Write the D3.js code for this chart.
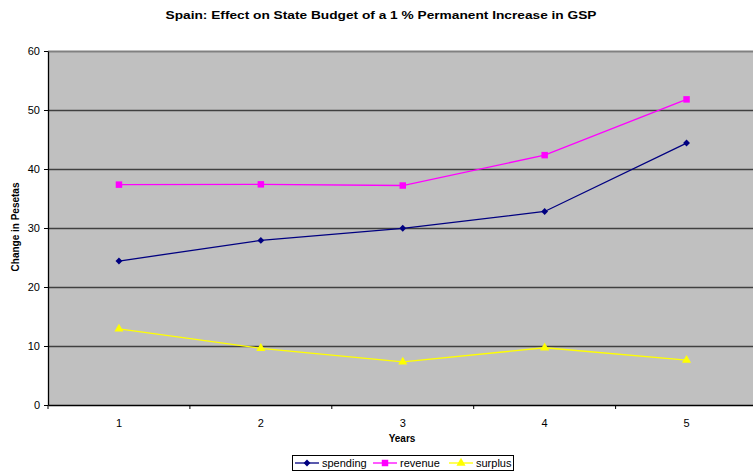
<!DOCTYPE html>
<html>
<head>
<meta charset="utf-8">
<script src="https://cdn.jsdelivr.net/npm/d3@7"></script>
<style>
  html, body { margin: 0; padding: 0; background: #fff; }
  svg { display: block; font-family: "Liberation Sans", Arial, sans-serif; }
</style>
</head>
<body>
<svg id="chart" width="753" height="474"></svg>
<script>
// Chart data
const years = [1, 2, 3, 4, 5];
const spending = [24.4, 27.9, 29.95, 32.8, 44.4];
const revenue = [37.35, 37.4, 37.2, 42.35, 51.8];
const surplus = [12.9, 9.6, 7.3, 9.7, 7.6];
const yTicks = [0, 10, 20, 30, 40, 50, 60];

const seriesList = [
  { name: "spending", values: spending, color: "#000080", symbol: d3.symbolDiamond2, size: 30 },
  { name: "revenue", values: revenue, color: "#FF00FF", symbol: d3.symbolSquare, size: 42 },
  { name: "surplus", values: surplus, color: "#FFFF00", symbol: d3.symbolTriangle, size: 36 }
];

const svg = d3.select("#chart");
const plot = { left: 48, top: 51, right: 757.5, bottom: 405 };

const x = d3.scaleBand().domain(years).range([plot.left, plot.right]);
const y = d3.scaleLinear().domain([0, 60]).range([plot.bottom, plot.top]);
const cx = d => x(d) + x.bandwidth() / 2;

// Plot background
svg.append("rect")
  .attr("x", plot.left).attr("y", plot.top)
  .attr("width", plot.right - plot.left).attr("height", plot.bottom - plot.top)
  .attr("fill", "#C0C0C0");

// Horizontal gridlines
svg.append("g").selectAll("line")
  .data(yTicks.filter(t => t > 0))
  .join("line")
  .attr("x1", plot.left).attr("x2", plot.right)
  .attr("y1", d => Math.round(y(d)) + 0.5).attr("y2", d => Math.round(y(d)) + 0.5)
  .attr("stroke", d => d === 60 ? "#808080" : "#404040")
  .attr("stroke-width", d => d === 60 ? 2 : 1.3);

// Y axis
const yAxis = svg.append("g")
  .attr("transform", `translate(${plot.left},0)`)
  .call(d3.axisLeft(y).tickValues(yTicks).tickSize(4).tickSizeOuter(0));
yAxis.select(".domain").attr("stroke", "#000").attr("stroke-width", 1.3);
yAxis.selectAll(".tick line").attr("stroke", "#000");
yAxis.selectAll(".tick text")
  .attr("font-size", 11).attr("fill", "#000").attr("x", -8)
  .style("font-family", "'Liberation Sans', Arial, sans-serif");

// X axis
const xAxis = svg.append("g")
  .attr("transform", `translate(0,${plot.bottom})`)
  .call(d3.axisBottom(x).tickSize(0).tickSizeOuter(0));
xAxis.select(".domain").attr("stroke", "#000").attr("stroke-width", 1.5);
xAxis.selectAll(".tick text")
  .attr("font-size", 11).attr("fill", "#000").attr("y", 14)
  .style("font-family", "'Liberation Sans', Arial, sans-serif");
// category separator ticks
svg.append("g").selectAll("line")
  .data(years)
  .join("line")
  .attr("x1", d => x(d)).attr("x2", d => x(d))
  .attr("y1", plot.bottom).attr("y2", plot.bottom + 4)
  .attr("stroke", "#000");

// Series lines and markers
const line = d3.line().x((d, i) => cx(years[i])).y(d => y(d));
seriesList.forEach(s => {
  svg.append("path")
    .datum(s.values)
    .attr("d", line)
    .attr("fill", "none")
    .attr("stroke", s.color)
    .attr("stroke-width", 1.3);
  svg.append("g").selectAll("path")
    .data(s.values)
    .join("path")
    .attr("transform", (d, i) => `translate(${cx(years[i])},${y(d)})`)
    .attr("d", d3.symbol().type(s.symbol).size(s.size))
    .attr("fill", s.color);
});

// Title
svg.append("text")
  .attr("x", 381).attr("y", 19)
  .attr("text-anchor", "middle")
  .attr("font-size", 11.5).attr("font-weight", "bold")
  .attr("textLength", 431).attr("lengthAdjust", "spacingAndGlyphs")
  .text("Spain: Effect on State Budget of a 1 % Permanent Increase in GSP");

// Axis titles
svg.append("text")
  .attr("transform", "translate(19,227) rotate(-90)")
  .attr("text-anchor", "middle")
  .attr("font-size", 10).attr("font-weight", "bold")
  .text("Change in Pesetas");

svg.append("text")
  .attr("x", 402).attr("y", 442)
  .attr("text-anchor", "middle")
  .attr("font-size", 10).attr("font-weight", "bold")
  .text("Years");

// Legend
const legend = svg.append("g");
legend.append("rect")
  .attr("x", 292.5).attr("y", 455.5).attr("width", 221).attr("height", 15)
  .attr("fill", "#fff").attr("stroke", "#000");
const legendX = [295, 373, 449];
seriesList.forEach((s, i) => {
  const g = legend.append("g").attr("transform", `translate(${legendX[i]},463)`);
  g.append("line").attr("x1", 0).attr("x2", 24).attr("y1", 0).attr("y2", 0)
    .attr("stroke", s.color).attr("stroke-width", 1.3);
  g.append("path").attr("transform", "translate(12,0)")
    .attr("d", d3.symbol().type(s.symbol).size(s.size)).attr("fill", s.color);
  g.append("text").attr("x", 27).attr("y", 4)
    .attr("font-size", 11).text(s.name);
});
</script>
</body>
</html>
